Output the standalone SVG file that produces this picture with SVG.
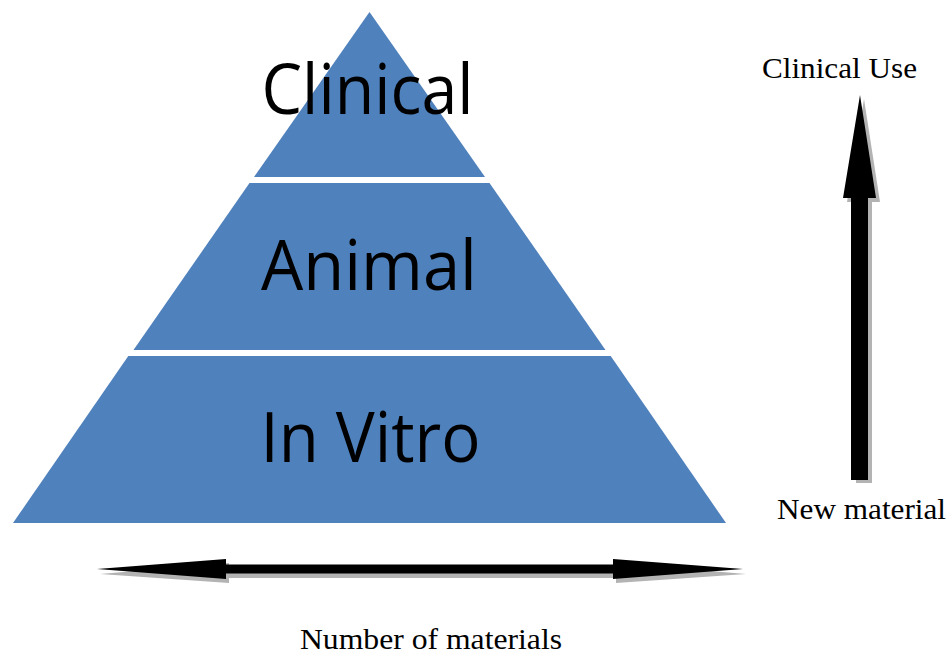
<svg xmlns="http://www.w3.org/2000/svg" width="951" height="656" viewBox="0 0 951 656">
<style>
.band{fill:#4f81bd;}
.big{font-family:"Open Sans","Noto Sans","Liberation Sans",sans-serif;font-size:70px;fill:#000;text-anchor:middle;}
.lbl{font-family:"Liberation Serif","Times New Roman",serif;font-size:30px;fill:#000;}
.arr{fill:#000;}
.shadow{fill:#b3b3b3;}
</style>
<rect width="951" height="656" fill="#fff"/>
<g id="invitro">
<polygon class="band" points="128.3,356 610.7,356 726,523 13,523"/>
<text class="big" x="370.5" y="462" textLength="220" lengthAdjust="spacingAndGlyphs">In Vitro</text>
</g>
<g id="animal">
<polygon class="band" points="249.5,183 489.5,183 605.5,350 133.5,350"/>
<text class="big" x="369" y="290" textLength="216" lengthAdjust="spacingAndGlyphs">Animal</text>
</g>
<g id="clinical">
<polygon class="band" points="369.5,12 485,177 254,177"/>
<text class="big" x="367.5" y="114" textLength="212" lengthAdjust="spacingAndGlyphs">Clinical</text>
</g>
<g id="connectors">
<g id="vertical-arrow">
<polygon class="shadow" points="864,99 880,202 872,202 872,483 856,483 856,202 847,202"/>
<polygon class="arr" points="860,95 876,198 868,198 868,480 851,480 851,198 843,198"/>
</g>
<g id="horizontal-arrow">
<polygon class="shadow" points="100,574 229,563 229,568 616,568 616,563 746,574 616,583 616,578 229,578 229,583"/>
<polygon class="arr" points="97,569 226,559 226,564.5 613,564.5 613,559 743,569 613,579 613,573.5 226,573.5 226,579"/>
</g>
</g>
<g id="labels">
<text class="lbl" x="762" y="77.5" textLength="155" lengthAdjust="spacingAndGlyphs">Clinical Use</text>
<text class="lbl" x="777" y="518.5" textLength="169" lengthAdjust="spacingAndGlyphs">New material</text>
<text class="lbl" x="300" y="648.5" textLength="262" lengthAdjust="spacingAndGlyphs">Number of materials</text>
</g>
</svg>
